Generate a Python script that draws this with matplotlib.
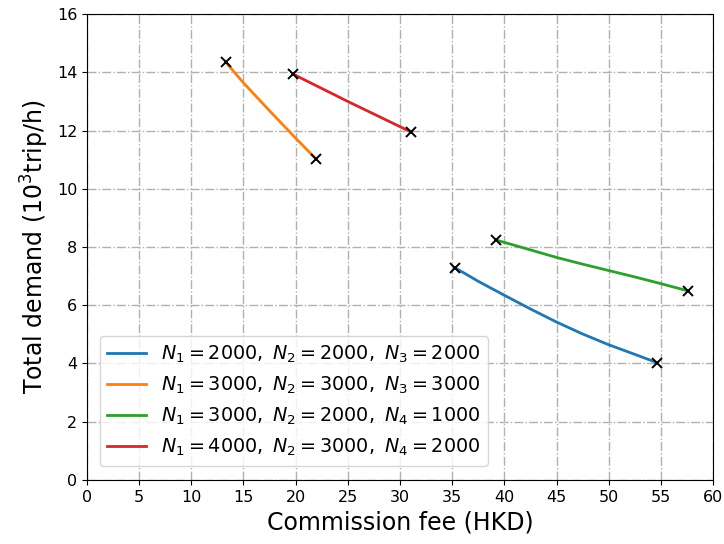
import matplotlib.pyplot as plt
import numpy as np

# commission fee (HKD) and total demand (10^3 trip/h)
fee_a = [35.3, 37.5, 40.0, 42.5, 45.0, 47.5, 50.0, 52.5, 54.65]
dem_a = [7.28, 6.82, 6.34, 5.87, 5.42, 5.01, 4.64, 4.31, 4.02]

fee_b = [13.3, 15.0, 17.5, 20.0, 21.96]
dem_b = [14.35, 13.64, 12.68, 11.74, 11.02]

fee_c = [39.2, 42.5, 45.0, 47.5, 50.0, 52.5, 55.0, 57.6]
dem_c = [8.24, 7.90, 7.64, 7.41, 7.19, 6.97, 6.74, 6.49]

fee_d = [19.75, 25.0, 31.06]
dem_d = [13.94, 13.0, 11.95]

labels = [r'$N_1=2000,\ N_2=2000,\ N_3=2000$',
          r'$N_1=3000,\ N_2=3000,\ N_3=3000$',
          r'$N_1=3000,\ N_2=2000,\ N_4=1000$',
          r'$N_1=4000,\ N_2=3000,\ N_4=2000$']

fig = plt.figure(figsize=(7.24, 5.44), dpi=100)
ax = fig.add_axes([0.120, 0.118, 0.865, 0.856])

series = [(fee_a, dem_a), (fee_b, dem_b), (fee_c, dem_c), (fee_d, dem_d)]
for (x, y), lab in zip(series, labels):
    ax.plot(x, y, linewidth=2, label=lab)
    ax.plot([x[0], x[-1]], [y[0], y[-1]], 'kx', markersize=7, markeredgewidth=1.4)

ax.set_xlim(0, 60)
ax.set_ylim(0, 16)
ax.set_xticks(np.arange(0, 61, 5))
ax.set_yticks(np.arange(0, 17, 2))
ax.grid(True, linestyle='-.', color='#b0b0b0', linewidth=1)
ax.tick_params(labelsize=11.5)

ax.set_xlabel('Commission fee (HKD)', fontsize=17)
ax.set_ylabel(r'Total demand ($10^3$trip/h)', fontsize=17)
ax.legend(loc='lower left', fontsize=13.8, bbox_to_anchor=(0.005, 0.01))

plt.savefig('out.png')
